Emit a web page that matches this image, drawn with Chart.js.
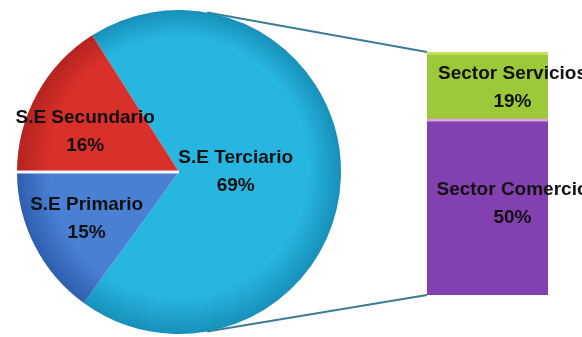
<!DOCTYPE html>
<html lang="es">
<head>
    <meta charset="UTF-8">
    <title>Sectores económicos</title>
    <script src="https://cdn.jsdelivr.net/npm/chart.js"></script>
    <style>
        html, body { margin: 0; padding: 0; background: #fff; }
        #wrap { position: relative; width: 582px; height: 337px; overflow: hidden; }
        #wrap canvas { position: absolute; left: 0; top: 0; }
    </style>
</head>
<body>
    <div id="wrap">
        <canvas id="barChart" width="582" height="337"></canvas>
        <canvas id="pieChart" width="582" height="337"></canvas>
    </div>

    <script>
        // Pie: economic sectors (%)
        const pieLabels = ['S.E Terciario', 'S.E Primario', 'S.E Secundario'];
        const pieValues = [69, 15, 16];

        // Bar: breakdown of S.E Terciario (%)
        const barLabels = ['Sector Comercio', 'Sector Servicios'];
        const barValues = [50, 19];

        const FONT = 'bold 19px "Liberation Sans", Arial, sans-serif';
        const pieInner = ['#27b6e0', '#4a80d4', '#d9302b'];
        const pieOuter = ['#1790b9', '#2f5eae', '#b52320'];

        // radial shading so the pie looks a bit rounded
        function shade(context) {
            const i = context.dataIndex;
            const c = context.chart;
            const a = c.chartArea;
            if (!a) return pieInner[i];
            const cx = (a.left + a.right) / 2, cy = (a.top + a.bottom) / 2;
            const r = Math.min(a.width, a.height) / 2;
            const g = c.ctx.createRadialGradient(cx, cy - r * 0.15, 0, cx, cy, r);
            g.addColorStop(0, pieInner[i]);
            g.addColorStop(0.8, pieInner[i]);
            g.addColorStop(1, pieOuter[i]);
            return g;
        }

        function twoLines(ctx, x, y, name, pct) {
            ctx.save();
            ctx.font = FONT;
            ctx.fillStyle = '#111';
            ctx.textAlign = 'center';
            ctx.textBaseline = 'middle';
            ctx.fillText(name, x, y - 14);
            ctx.fillText(pct + '%', x, y + 14);
            ctx.restore();
        }

        // label distance from the centre (fraction of radius) and small nudges
        const labelDist = [0.35, 0.64, 0.64];
        const labelNudge = [[0, -2], [0, 0], [-3, 10]];

        const pieLabelPlugin = {
            id: 'pieLabels',
            afterDatasetsDraw(chart) {
                const ctx = chart.ctx;
                const arcs = chart.getDatasetMeta(0).data;
                // thin white gap between Primario and Secundario
                const sec = arcs[2];
                ctx.save();
                ctx.strokeStyle = '#f4f8ff';
                ctx.lineWidth = 3;
                ctx.beginPath();
                ctx.moveTo(sec.x, sec.y);
                ctx.lineTo(sec.x + Math.cos(sec.startAngle) * sec.outerRadius,
                           sec.y + Math.sin(sec.startAngle) * sec.outerRadius);
                ctx.stroke();
                ctx.restore();
                arcs.forEach((arc, i) => {
                    const mid = (arc.startAngle + arc.endAngle) / 2;
                    const d = arc.outerRadius * labelDist[i];
                    const x = arc.x + Math.cos(mid) * d + labelNudge[i][0];
                    const y = arc.y + Math.sin(mid) * d + labelNudge[i][1];
                    twoLines(ctx, x, y, pieLabels[i], pieValues[i]);
                });
            }
        };

        // lines joining the pie to the bar, plus bar labels
        const connectorPlugin = {
            id: 'connectors',
            beforeDatasetsDraw(chart) {
                const arc = pieChart.getDatasetMeta(0).data[0];
                const top = chart.getDatasetMeta(1).data[0];
                const bottom = chart.getDatasetMeta(0).data[0];
                const left = top.x - top.width / 2;
                const r = arc.outerRadius;
                const a1 = (10 - 90) * Math.PI / 180;
                const a2 = (170 - 90) * Math.PI / 180;
                const ctx = chart.ctx;
                ctx.save();
                ctx.strokeStyle = '#3b7d93';
                ctx.lineWidth = 2;
                ctx.beginPath();
                ctx.moveTo(arc.x + Math.cos(a1) * r, arc.y + Math.sin(a1) * r);
                ctx.lineTo(left, top.y);
                ctx.moveTo(arc.x + Math.cos(a2) * r, arc.y + Math.sin(a2) * r);
                ctx.lineTo(left, bottom.base);
                ctx.stroke();
                ctx.restore();
            },
            afterDatasetsDraw(chart) {
                chart.data.datasets.forEach((ds, i) => {
                    const bar = chart.getDatasetMeta(i).data[0];
                    const y = (bar.y + bar.base) / 2;
                    twoLines(chart.ctx, bar.x + 25, i === 0 ? y - 3 : y + 2, barLabels[i], barValues[i]);
                });
            }
        };

        const pieChart = new Chart(document.getElementById('pieChart'), {
            type: 'pie',
            data: {
                labels: pieLabels,
                datasets: [{
                    data: pieValues,
                    backgroundColor: shade,
                    borderWidth: 0
                }]
            },
            options: {
                responsive: false,
                animation: false,
                rotation: -32.4,
                layout: { padding: { left: 17, right: 241, top: 10, bottom: 3 } },
                plugins: { legend: { display: false }, tooltip: { enabled: false } }
            },
            plugins: [pieLabelPlugin]
        });

        const barChart = new Chart(document.getElementById('barChart'), {
            type: 'bar',
            data: {
                labels: ['S.E Terciario'],
                datasets: [
                    {
                        label: barLabels[0],
                        data: [barValues[0]],
                        backgroundColor: '#8340b0',
                        borderColor: '#d7a6e0',
                        borderWidth: { top: 3, left: 0, right: 0, bottom: 0 },
                        borderSkipped: false
                    },
                    {
                        label: barLabels[1],
                        data: [barValues[1]],
                        backgroundColor: '#9cc83a',
                        borderColor: '#c9e05a',
                        borderWidth: { top: 3, left: 0, right: 0, bottom: 0 },
                        borderSkipped: false
                    }
                ]
            },
            options: {
                responsive: false,
                animation: false,
                layout: { padding: { left: 427, right: 34, top: 52, bottom: 42 } },
                datasets: { bar: { categoryPercentage: 1, barPercentage: 1 } },
                scales: {
                    x: { stacked: true, display: false },
                    y: { stacked: true, display: false, min: 0, max: 69 }
                },
                plugins: { legend: { display: false }, tooltip: { enabled: false } }
            },
            plugins: [connectorPlugin]
        });
        barChart.update();
    </script>
</body>
</html>
